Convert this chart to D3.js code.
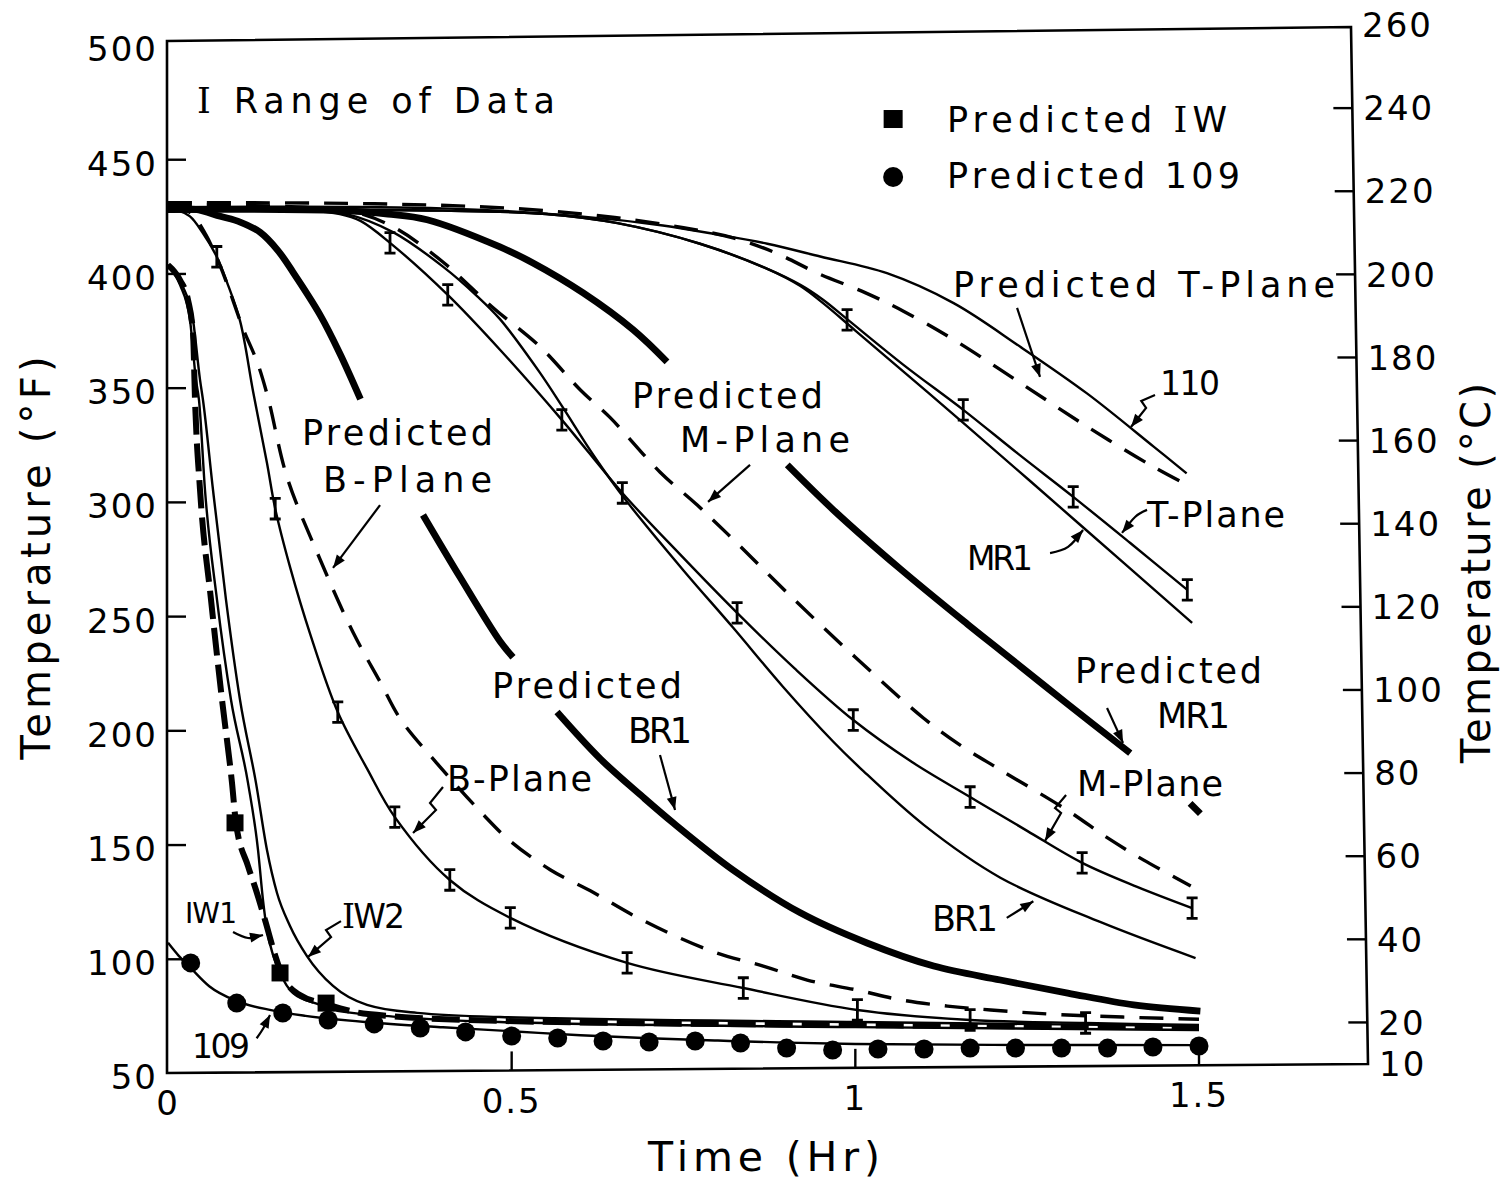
<!DOCTYPE html>
<html>
<head>
<meta charset="utf-8">
<script src="https://cdn.jsdelivr.net/npm/d3@7"></script>
<style>
 html,body{margin:0;padding:0;background:#fff;}
 svg{display:block;}
 text{font-family:"DejaVu Sans",sans-serif;fill:#000;white-space:pre;}
</style>
</head>
<body>
<svg id="chart" width="1504" height="1183"></svg>
<script>
// ================= DATA (time in hours, temperature in °F) =================
const tempTicksF = [500,450,400,350,300,250,200,150,100,50];
const tempTicksC = [260,240,220,200,180,160,140,120,100,80,60,40,20,10];
const timeTicks = [0,0.5,1,1.5];
const timeTickLabels = ["0","0.5","1","1.5"];
const rangeHalf = 4.5; // half height of "range of data" bars (°F)

// Experimental curves (thin solid)
const curve110 = [[0,429],[0.4,428.5],[0.6,425],[0.72,421],[0.8,417],[0.872,413],[0.949,407.4],[1.046,400.1],[1.143,387],[1.24,367.9],[1.337,347.5],[1.434,324.2],[1.482,312.5]];
const tPlane = [[0,428],[0.4,427.5],[0.55,426],[0.654,422],[0.774,413],[0.872,402],[0.92,395],[0.953,388.5],[0.988,380],[1.07,360],[1.157,340.3],[1.237,321],[1.317,302.2],[1.4,282],[1.483,261.5]];
const tPlaneBars = [[0.988,379.7],[1.157,340.3],[1.317,302.2],[1.483,261.5]];
const mr1 = [[0,428],[0.4,427.5],[0.55,426],[0.654,422],[0.774,413],[0.872,402],[0.92,394.5],[0.953,387],[1.0,375],[1.157,334.6],[1.327,290],[1.49,247]];
const mPlane = [[0,428],[0.2,427.5],[0.25,426],[0.28,423],[0.323,413.4],[0.407,390.6],[0.483,366.6],[0.573,335.9],[0.661,303.9],[0.745,277],[0.828,251.4],[0.912,227],[0.997,204.5],[1.083,186],[1.167,170.8],[1.25,156],[1.33,142],[1.41,131.5],[1.49,122.2]];
const mPlaneBars = [[0.323,413.4],[0.407,390.6],[0.573,335.9],[0.661,303.9],[0.828,251.4],[0.997,204.5],[1.167,170.8],[1.33,142],[1.49,122.2]];
const br1 = [[0,428],[0.2,427.5],[0.26,426],[0.328,418],[0.4,403],[0.45,390],[0.483,380],[0.54,357],[0.573,342],[0.62,320],[0.668,300],[0.75,270],[0.822,245],[0.895,219],[0.968,195],[1.007,183.5],[1.1,158.5],[1.211,135.5],[1.357,116],[1.495,100.3]];
const bPlane = [[0,428],[0.015,427.5],[0.032,425],[0.05,418],[0.071,407.3],[0.086,396],[0.105,379],[0.124,348],[0.144,317],[0.156,297],[0.178,271],[0.207,242],[0.247,208],[0.29,183],[0.33,162],[0.41,134.5],[0.498,117.9],[0.668,98.2],[0.837,87.2],[1.003,77.6],[1.167,73.2],[1.335,71.9],[1.5,71]];
const bPlaneBars = [[0.071,407.3],[0.156,297],[0.247,208],[0.33,162],[0.41,134.5],[0.498,117.9],[0.668,98.2],[0.837,87.2],[1.003,77.6],[1.167,73.2],[1.335,71.9]];
const iw1 = [[0,403.7],[0.0175,395],[0.032,379.6],[0.0407,353.4],[0.0451,344.6],[0.0538,305.2],[0.0713,257.1],[0.0917,213.3],[0.1164,177],[0.131,147.6],[0.1382,125.7],[0.144,112.6],[0.1528,101.7],[0.163,93.8],[0.1819,85],[0.2212,79.8],[0.24,77.6],[0.3376,74.5],[0.483,72.3],[1.0,70.1],[1.5,68.8]];
const iw2 = [[0,403.7],[0.0204,395],[0.0364,379.6],[0.0466,353.4],[0.0509,344.6],[0.0655,305.2],[0.0844,257.1],[0.1048,213.3],[0.128,177],[0.144,147.6],[0.1586,128.8],[0.1775,114.4],[0.2022,101.2],[0.2401,88.1],[0.2895,79.8],[0.3623,76.3],[0.483,74.5],[1.0,72.3],[1.5,70.6]];
const curve109 = [[0,107],[0.015,101.5],[0.033,96],[0.06,88],[0.1,81.5],[0.15,77.5],[0.2,75],[0.3,72],[0.4,70],[0.5,68.3],[0.6,66.5],[0.7,65.2],[0.8,64.2],[0.9,63.3],[1.0,62.7],[1.2,62.3],[1.5,62.2]];

// Predicted curves (dashed thin)
const predTPlane = [[0,431],[0.3,430.5],[0.5,428.5],[0.65,424.5],[0.75,420],[0.822,415.6],[0.884,409],[0.946,400],[1.015,391.5],[1.07,383.5],[1.143,371],[1.24,352.1],[1.338,332.8],[1.434,315.3],[1.488,306.6]];
const predMPlane = [[0,430],[0.2,429],[0.27,427],[0.33,420],[0.4,405],[0.473,385],[0.541,368],[0.6,349],[0.643,337],[0.716,313],[0.77,298.6],[0.814,286],[0.905,259],[1.0,232],[1.099,205.4],[1.152,193.6],[1.211,182.7],[1.31,164.7],[1.367,152.9],[1.419,143.3],[1.488,131.9]];
const predBPlane = [[0,429],[0.02,428.5],[0.035,426],[0.055,417],[0.075,404],[0.09,392],[0.109,376],[0.13,361],[0.146,345],[0.173,311],[0.221,275],[0.269,243],[0.309,221],[0.338,205],[0.39,186],[0.459,163],[0.498,151.5],[0.556,139],[0.619,129],[0.677,119],[0.735,110.4],[0.799,102.5],[0.866,96.8],[0.93,90.7],[1.003,86.3],[1.066,82],[1.134,79.3],[1.197,77.6],[1.3,75.5],[1.5,73.5]];

// Predicted curves (thick solid, broken where labels sit; null = break)
const predMR1 = [[0,428],[0.25,427.5],[0.32,426],[0.377,423.5],[0.483,411.6],[0.531,404.6],[0.604,391.5],[0.677,375.3],[0.726,361.3],null,[0.901,316.2],[0.968,296.5],[1.066,270.5],[1.163,246.5],[1.211,235],[1.309,211.5],[1.4,190],null,[1.487,168],[1.502,163.5]];
const predBR1 = [[0,428],[0.04,428],[0.076,425],[0.105,422.5],[0.134,418],[0.16,410],[0.182,400.5],[0.221,382],[0.25,365],[0.28,345],null,[0.371,294.3],[0.425,267],[0.483,239],[0.502,232],null,[0.566,208],[0.629,187.5],[0.691,170.8],[0.735,159.5],[0.822,138.9],[0.92,120.1],[1.017,106.9],[1.114,96.8],[1.211,90.7],[1.309,85],[1.405,79.8],[1.502,77.1]];

// Predicted IW (thick dashed) and predicted points
const predIW = [[0,403.7],[0.0175,397.1],[0.0291,388.4],[0.0364,373.9],[0.0393,344.6],[0.0466,305.2],[0.0626,257.1],[0.0786,213.3],[0.0931,177],[0.0989,159.4],[0.1164,140.6],[0.128,130.1],[0.1411,117],[0.1557,101.7],[0.1659,92.9],[0.192,84.1],[0.2299,80.2],[0.291,75.8],[0.483,72.8],[1.0,71],[1.5,70.1]];
const predIWPoints = [[0.0975,159.5],[0.163,93.8],[0.23,80.6]];
const pred109Times = [0.033,0.1,0.167,0.233,0.3,0.367,0.433,0.5,0.567,0.633,0.7,0.767,0.833,0.9,0.967,1.033,1.1,1.167,1.233,1.3,1.367,1.433,1.5];
const pred109Temps = [98.2,80.6,76.3,73.2,71.5,69.7,68.0,66.2,65.3,64.0,63.6,64.0,63.1,60.9,60.1,60.5,60.5,60.9,60.9,60.9,60.9,61.4,61.8];

// ================= LAYOUT =================
const svg = d3.select("#chart");
const x = d3.scaleLinear().domain([0,1.5]).range([168,1199]);
const y = d3.scaleLinear().domain([50,500]).range([1073,45]);
const yC = d3.scaleLinear().domain([10,260]).range([1064,25]);
const x0 = x(0) - 1;
const xRightTop = 1351, xRightBot = 1368;
const xRight = py => xRightTop + (py - yC(260)) / (yC(10) - yC(260)) * (xRightBot - xRightTop);
const yBottom = px => y(50) + (yC(10) - y(50)) * (px - x0) / (xRightBot - x0);

// frame
svg.append("path")
  .attr("d", `M${x0},${y(500)-4}L${xRightTop},${yC(260)+2}L${xRightBot},${yC(10)}L${x0},${y(50)}Z`)
  .attr("fill","none").attr("stroke","#000").attr("stroke-width",2.6);

// left axis
const gL = svg.append("g").attr("transform",`translate(${x0},0)`)
  .call(d3.axisLeft(y).tickValues(tempTicksF).tickSize(-19).tickPadding(9).tickFormat(d3.format("d")));
gL.select(".domain").remove();
gL.selectAll(".tick line").attr("stroke-width",2.4).filter(d => d===500 || d===50).remove();
gL.selectAll(".tick text").attr("font-size",34).attr("letter-spacing",2).attr("dy","0.47em");

// right axis (°C)
const gR = svg.append("g")
  .call(d3.axisRight(yC).tickValues(tempTicksC).tickSize(-19).tickPadding(11).tickFormat(d3.format("d")));
gR.select(".domain").remove();
gR.selectAll(".tick").attr("transform", d => `translate(${xRight(yC(d))},${yC(d)})`);
gR.selectAll(".tick line").attr("stroke-width",2.4).filter(d => d===260 || d===10).remove();
gR.selectAll(".tick text").attr("font-size",34).attr("letter-spacing",2).attr("dy","0.36em");

// bottom axis
const gB = svg.append("g")
  .call(d3.axisBottom(x).tickValues(timeTicks).tickSize(-19).tickPadding(18).tickFormat((d,i) => timeTickLabels[i]));
gB.select(".domain").remove();
gB.selectAll(".tick").attr("transform", d => `translate(${x(d)},${yBottom(x(d))})`);
gB.selectAll(".tick line").attr("stroke-width",2.4).filter(d => d===0).remove();
gB.selectAll(".tick text").attr("font-size",34).attr("letter-spacing",2);

// axis titles
svg.append("text").attr("x",764).attr("y",1171).attr("text-anchor","middle")
  .attr("font-size",41).attr("textLength",232).attr("lengthAdjust","spacing").text("Time (Hr)");
svg.append("text").attr("transform","translate(50,558) rotate(-90)").attr("text-anchor","middle")
  .attr("font-size",40).attr("textLength",403).attr("lengthAdjust","spacing").text("Temperature (°F)");
svg.append("text").attr("transform","translate(1490,573) rotate(-90)").attr("text-anchor","middle")
  .attr("font-size",40).attr("textLength",380).attr("lengthAdjust","spacing").text("Temperature (°C)");

// ================= CURVES =================
const plot = svg.append("g");
const line = d3.line().defined(d => d !== null).x(d => x(d[0])).y(d => y(d[1])).curve(d3.curveCatmullRom.alpha(0.5));
const lineM = d3.line().defined(d => d !== null).x(d => x(d[0])).y(d => y(d[1])).curve(d3.curveMonotoneX);

const thin = [curve110, tPlane, mr1, mPlane, br1, bPlane];
thin.forEach(s => plot.append("path").attr("d", line(s)).attr("fill","none")
  .attr("stroke","#000").attr("stroke-width",2.4).attr("stroke-linejoin","round"));
[iw1, iw2, curve109].forEach(s => plot.append("path").attr("d", lineM(s)).attr("fill","none")
  .attr("stroke","#000").attr("stroke-width",2.4).attr("stroke-linejoin","round"));

const dashed = [predTPlane, predMPlane, predBPlane];
dashed.forEach(s => plot.append("path").attr("d", line(s)).attr("fill","none")
  .attr("stroke","#000").attr("stroke-width",3.4).attr("stroke-dasharray","24,15"));

const thick = [predMR1, predBR1];
thick.forEach(s => plot.append("path").attr("d", line(s)).attr("fill","none")
  .attr("stroke","#000").attr("stroke-width",6.8).attr("stroke-linecap","butt"));

plot.append("path").attr("d", lineM(predIW)).attr("fill","none")
  .attr("stroke","#000").attr("stroke-width",6).attr("stroke-dasharray","28,9");

// range-of-data bars
[tPlaneBars, mPlaneBars, bPlaneBars].forEach(bars => {
  bars.forEach(d => {
    const cx = x(d[0]), y1 = y(d[1] + rangeHalf), y2 = y(d[1] - rangeHalf);
    plot.append("path")
      .attr("d", `M${cx},${y1}L${cx},${y2}M${cx-5.5},${y1}L${cx+5.5},${y1}M${cx-5.5},${y2}L${cx+5.5},${y2}`)
      .attr("stroke","#000").attr("stroke-width",2.8).attr("fill","none");
  });
});

// predicted 109 dots
plot.selectAll("circle.p109").data(pred109Times.map((t,i) => [t, pred109Temps[i]])).enter()
  .append("circle").attr("cx", d => x(d[0])).attr("cy", d => y(d[1])).attr("r",9.5).attr("fill","#000");
// predicted IW squares
plot.selectAll("rect.piw").data(predIWPoints).enter()
  .append("rect").attr("x", d => x(d[0]) - 8.5).attr("y", d => y(d[1]) - 8.5)
  .attr("width",17).attr("height",17).attr("fill","#000");

// ================= LEGEND & ANNOTATIONS =================
svg.append("rect").attr("x", x(1.055) - 9.5).attr("y", y(467.6) - 9).attr("width",19).attr("height",18).attr("fill","#000");
svg.append("circle").attr("cx", x(1.055)).attr("cy", y(442.2)).attr("r",10).attr("fill","#000");

const labels = [
 {text:"I Range of Data", t:0.0422, F:470.2, w:358, serif:true},
 {text:"Predicted IW", t:1.1334, F:461.9, w:280, serif:true},
 {text:"Predicted 109", t:1.1334, F:437.4, w:293},
 {text:"Predicted T-Plane", t:1.1422, F:389.7, w:382},
 {text:"110", t:1.4433, F:346.8, w:60, size:33},
 {text:"T-Plane", t:1.4244, F:289.0, w:138},
 {text:"MR1", t:1.1625, F:270.2, w:66, size:33},
 {text:"Predicted", t:1.3197, F:220.7, w:187},
 {text:"MR1", t:1.439, F:201.0, w:73},
 {text:"M-Plane", t:1.3226, F:171.3, w:146},
 {text:"BR1", t:1.1116, F:112.2, w:66},
 {text:"Predicted", t:0.4714, F:214.2, w:190},
 {text:"BR1", t:0.6693, F:194.5, w:64},
 {text:"B-Plane", t:0.4059, F:173.4, w:145},
 {text:"IW1", t:0.0247, F:115.7, w:52, size:28},
 {text:"IW2", t:0.2532, F:113.5, w:63, size:33, serif:true},
 {text:"109", t:0.0349, F:56.6, w:58, size:33},
 {text:"Predicted", t:0.6751, F:341.1, w:191},
 {text:"M-Plane", t:0.7449, F:321.8, w:170},
 {text:"Predicted", t:0.195, F:324.9, w:191},
 {text:"B-Plane", t:0.2255, F:304.3, w:169}
];
labels.forEach(l => {
  const tx = svg.append("text").attr("x", x(l.t)).attr("y", y(l.F))
    .attr("font-size", l.size || 35).attr("textLength", l.w).attr("lengthAdjust","spacing");
  if (l.serif) {
    const parts = l.text.split("I");
    parts.forEach((p,i) => {
      if (i > 0) tx.append("tspan").attr("font-family","DejaVu Serif").text("I");
      if (p.length) tx.append("tspan").text(p);
    });
  } else tx.text(l.text);
});

const arrows = [
 {pts:[[1.2353,384.9],[1.2687,354.7]]},
 {pts:[[1.436,346.8],[1.416,344.2],[1.423,341.1],[1.401,332.8]]},
 {pts:[[1.4244,296.5],[1.407,293.4],[1.388,286.4]], curved:true},
 {pts:[[1.2833,277.6],[1.3095,280.3],[1.3313,287.7]], curved:true},
 {pts:[[1.3662,209.8],[1.3895,194.5]]},
 {pts:[[1.3066,171.7],[1.2906,166.0],[1.2993,163.8],[1.276,151.6]]},
 {pts:[[1.2203,117.9],[1.259,125.2]]},
 {pts:[[0.7158,189.2],[0.7377,165.1]]},
 {pts:[[0.4001,175.2],[0.3812,168.2],[0.3899,165.1],[0.3565,155.1]]},
 {pts:[[0.0946,111.7],[0.1164,109.1],[0.1382,110.4]], curved:true},
 {pts:[[0.2517,116.5],[0.2299,112.6],[0.2372,109.5],[0.2037,100.8]]},
 {pts:[[0.129,65.2],[0.1387,69.6],[0.1484,75.4]], curved:true},
 {pts:[[0.8468,316.2],[0.7857,300.0]]},
 {pts:[[0.3085,298.6],[0.2401,271.1]]}
];
const aLine = d3.line().x(d => x(d[0])).y(d => y(d[1]));
arrows.forEach(a => {
  const gen = a.curved ? aLine.curve(d3.curveNatural) : aLine.curve(d3.curveLinear);
  svg.append("path").attr("d", gen(a.pts)).attr("fill","none").attr("stroke","#000").attr("stroke-width",2.2);
  const n = a.pts.length;
  const p2 = [x(a.pts[n-1][0]), y(a.pts[n-1][1])], p1 = [x(a.pts[n-2][0]), y(a.pts[n-2][1])];
  const dx = p2[0]-p1[0], dy = p2[1]-p1[1], L = Math.hypot(dx,dy), ux = dx/L, uy = dy/L;
  const len = 13, hw = 5, bx = p2[0]-ux*len, by = p2[1]-uy*len;
  svg.append("path").attr("d", `M${p2[0]},${p2[1]}L${bx-uy*hw},${by+ux*hw}L${bx+uy*hw},${by-ux*hw}Z`).attr("fill","#000");
});
</script>
</body>
</html>
